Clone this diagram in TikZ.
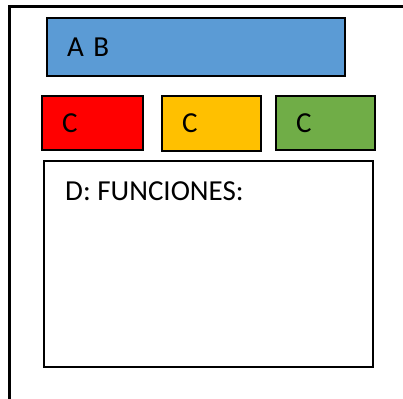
\documentclass[tikz,border=0pt]{standalone}
\usepackage{fontspec}
\setmainfont{Carlito}
\usepackage{xcolor}
\usepackage{tikz}
\usetikzlibrary{positioning}
\definecolor{azul}{HTML}{5B9BD5}
\definecolor{rojo}{HTML}{FF0000}
\definecolor{amarillo}{HTML}{FFC000}
\definecolor{verde}{HTML}{70AD47}
\tikzset{
    marco/.style      = {draw, line width=2.2pt},
    caja/.style 2 args = {draw, line width=2.2pt, outer sep=0pt,
                        inner xsep=20pt, inner ysep=0pt,
                        minimum width=#1, minimum height=#2,
                        text width=#1-40pt, align=left,
                        font=\fontsize{29}{34}\selectfont},
    texto/.style      = {inner sep=0pt, font=\fontsize{29}{34}\selectfont}
}

\begin{document}
\begin{tikzpicture}[x=1pt, y=-1pt]
        \useasboundingbox (0,0) rectangle (403,398);
        \clip (0,0) rectangle (403,398);
        \draw[marco] (9.5,6.5) rectangle (430,430);

        \node[caja={298}{58}, fill=azul, anchor=north west] (ab) at (47,18) {A B};
        \node[caja={101}{54}, fill=rojo, anchor=north west] (c1) at (42,96) {C};
        \node[caja={99}{55}, fill=amarillo, right=19pt of c1.north east, anchor=north west] (c2) {C};
        \node[caja={99}{54}, fill=verde, right=15pt of c2.north east, anchor=north west] (c3) {C};
        \node[caja={329}{206}, below=11pt of c1.south west, anchor=north west, xshift=2pt] (d) {};

        \node[texto, anchor=base west] (funciones) at ([shift={(21pt,-39pt)}]d.north west) {D: FUNCIONES:};
    \end{tikzpicture}
\end{document}
